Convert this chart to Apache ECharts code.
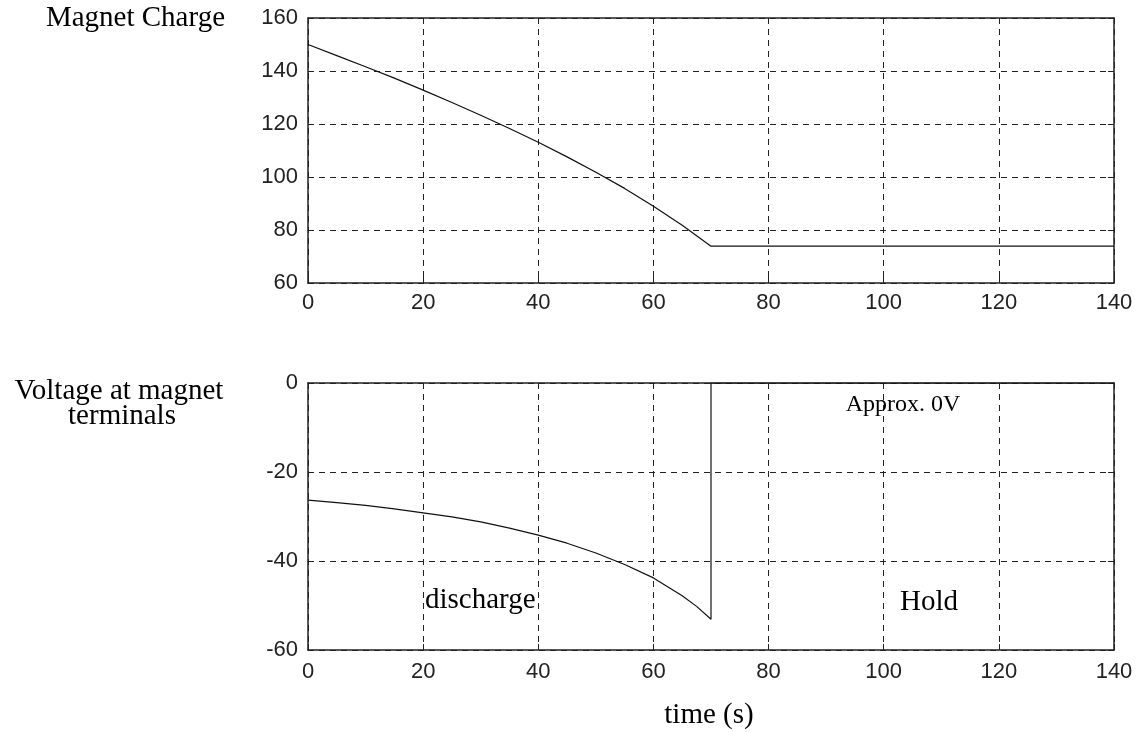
<!DOCTYPE html>
<html>
<head>
<meta charset="utf-8">
<script src="https://cdn.jsdelivr.net/npm/echarts@6/dist/echarts.min.js"></script>
<style>
  html, body { margin: 0; padding: 0; background: #fff; }
  #chart { width: 1140px; height: 732px; }
</style>
</head>
<body>
<div id="chart"></div>
<script>
// ---- data ----
const timeCharge   = [0, 5, 10, 15, 20, 25, 30, 35, 40, 45, 50, 55, 60, 65, 70, 140];
const chargeValues = [150, 145.8, 141.6, 137.3, 132.8, 128.1, 123.3, 118.3, 113.1, 107.6, 101.8, 95.7, 89.0, 81.8, 73.9, 73.9];

const timeVoltage   = [0, 5, 10, 15, 20, 25, 30, 35, 40, 45, 50, 55, 60, 65, 67.5, 70, 70, 140];
const voltageValues = [-26.3, -26.9, -27.5, -28.3, -29.2, -30.1, -31.2, -32.6, -34.2, -36.0, -38.2, -40.8, -43.8, -47.8, -50.2, -53.1, 0, 0];

const xTickRange  = { min: 0, max: 140, step: 20 };
const chargeRange = { min: 60, max: 160, step: 20 };
const voltRange   = { min: -60, max: 0, step: 20 };

const labels = {
  chargeTitle: 'Magnet Charge',
  voltTitle1: 'Voltage at magnet',
  voltTitle2: 'terminals',
  xTitle: 'time (s)',
  approx: 'Approx. 0V',
  discharge: 'discharge',
  hold: 'Hold'
};

// ---- styles ----
const INK = '#222';
const tickFont = { fontSize: 22, fontFamily: 'Liberation Sans, Arial, sans-serif', color: INK };
const serif = 'Liberation Serif, Times New Roman, serif';

function zip(xs, ys) { return xs.map((x, i) => [x, ys[i]]); }

function xAxes(gi, labelMargin) {
  return [
    {
      gridIndex: gi, type: 'value', position: 'bottom',
      min: xTickRange.min, max: xTickRange.max, interval: xTickRange.step,
      axisLine: { show: true, onZero: false, lineStyle: { color: INK, width: 1.5 } },
      axisTick: { show: true, inside: true, length: 6, lineStyle: { color: INK, width: 1 } },
      axisLabel: Object.assign({ margin: labelMargin }, tickFont),
      splitLine: { show: true, lineStyle: { type: [6, 5], color: INK, width: 1 } }
    },
    {
      gridIndex: gi, type: 'value', position: 'top',
      min: xTickRange.min, max: xTickRange.max, interval: xTickRange.step,
      axisLine: { show: true, onZero: false, lineStyle: { color: INK, width: 1.5 } },
      axisTick: { show: true, inside: true, length: 6, lineStyle: { color: INK, width: 1 } },
      axisLabel: { show: false },
      splitLine: { show: false }
    }
  ];
}

function yAxes(gi, r) {
  return [
    {
      gridIndex: gi, type: 'value', position: 'left',
      min: r.min, max: r.max, interval: r.step,
      axisLine: { show: true, onZero: false, lineStyle: { color: INK, width: 1.5 } },
      axisTick: { show: true, inside: true, length: 6, lineStyle: { color: INK, width: 1 } },
      axisLabel: Object.assign({ margin: 10 }, tickFont),
      splitLine: { show: true, lineStyle: { type: [6, 5], color: INK, width: 1 } }
    },
    {
      gridIndex: gi, type: 'value', position: 'right',
      min: r.min, max: r.max, interval: r.step,
      axisLine: { show: true, onZero: false, lineStyle: { color: INK, width: 1.5 } },
      axisTick: { show: true, inside: true, length: 6, lineStyle: { color: INK, width: 1 } },
      axisLabel: { show: false },
      splitLine: { show: false }
    }
  ];
}

function txt(text, x, y, size, align) {
  return {
    type: 'text', x: x, y: y, z: 100,
    style: { text: text, fontSize: size, fontFamily: serif, fill: '#000', align: align || 'center', verticalAlign: 'middle' }
  };
}

const chart = echarts.init(document.getElementById('chart'), null, { renderer: 'canvas' });
chart.setOption({
  animation: false,
  backgroundColor: '#fff',
  grid: [
    { left: 308, top: 18, width: 806, height: 265 },
    { left: 308, top: 383, width: 806, height: 267 }
  ],
  xAxis: [...xAxes(0, 9), ...xAxes(1, 11)],
  yAxis: [...yAxes(0, chargeRange), ...yAxes(1, voltRange)],
  series: [
    {
      type: 'line', xAxisIndex: 0, yAxisIndex: 0,
      data: zip(timeCharge, chargeValues),
      showSymbol: false, symbol: 'none',
      lineStyle: { color: '#111', width: 1.2 }
    },
    {
      type: 'line', xAxisIndex: 2, yAxisIndex: 2,
      data: zip(timeVoltage, voltageValues),
      showSymbol: false, symbol: 'none',
      lineStyle: { color: '#111', width: 1.2 }
    }
  ],
  graphic: [
    txt(labels.chargeTitle, 225, 18, 29, 'right'),
    txt(labels.voltTitle1, 119, 391, 29),
    txt(labels.voltTitle2, 122, 416, 29),
    txt(labels.approx, 903, 405, 24),
    txt(labels.discharge, 425, 600, 29, 'left'),
    txt(labels.hold, 929, 602, 29),
    txt(labels.xTitle, 709, 715, 29)
  ]
});
</script>
</body>
</html>
